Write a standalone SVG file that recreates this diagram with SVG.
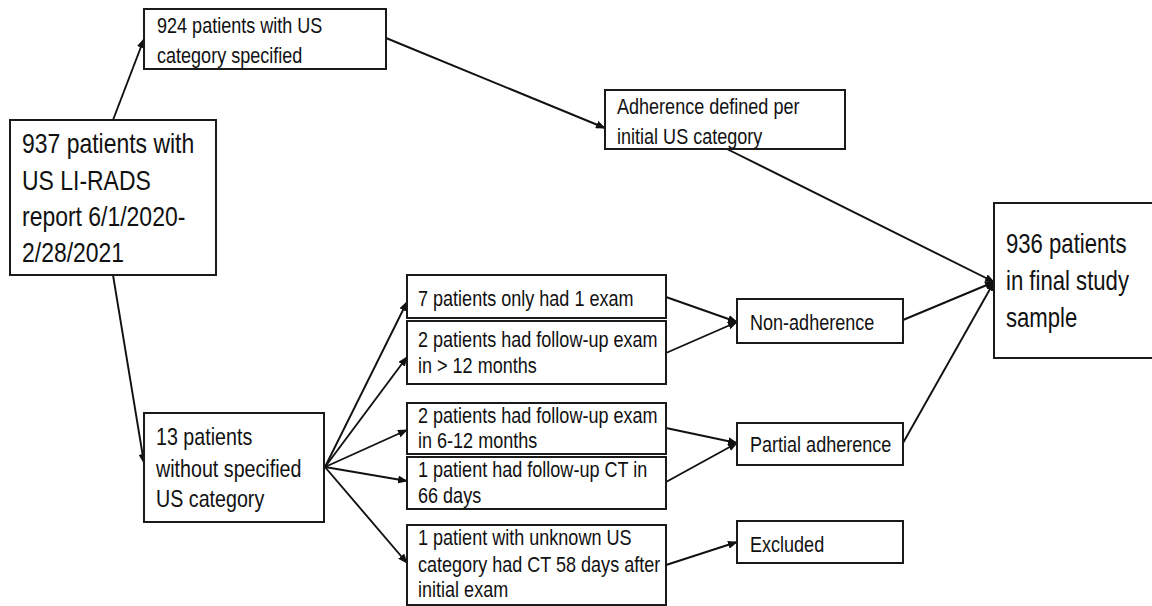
<svg xmlns="http://www.w3.org/2000/svg" width="1152" height="606" viewBox="0 0 1152 606">
<style>
.box{fill:#fff;stroke:#1a1a1a;stroke-width:2}
.t{font-family:"Liberation Sans",Arial,sans-serif;fill:#111}
.s22{font-size:22px}
.s24{font-size:24px}
.s27{font-size:27px}
.s28{font-size:28px}
.c{fill:none;stroke:#111;stroke-width:1.9;marker-end:url(#ah)}
</style>
<defs>
<marker id="ah" markerUnits="userSpaceOnUse" markerWidth="10" markerHeight="8" refX="9" refY="4" orient="auto">
<path d="M0,0 L10,4 L0,8 z" fill="#111"/>
</marker>
</defs>
<rect width="1152" height="606" fill="#fff"/>
<g id="connectors">
<line class="c" x1="113" y1="120" x2="144" y2="39"/>
<line class="c" x1="113" y1="275" x2="144" y2="463"/>
<line class="c" x1="386" y1="38" x2="605" y2="128"/>
<line class="c" x1="727" y1="149" x2="994" y2="282"/>
<line class="c" x1="903" y1="320" x2="994" y2="282"/>
<line class="c" x1="903" y1="443" x2="994" y2="282"/>
<line class="c" x1="325" y1="467" x2="407" y2="302"/>
<line class="c" x1="325" y1="467" x2="407" y2="357"/>
<line class="c" x1="325" y1="467" x2="407" y2="430"/>
<line class="c" x1="325" y1="467" x2="407" y2="481"/>
<line class="c" x1="325" y1="467" x2="407" y2="563"/>
<line class="c" x1="666" y1="297" x2="737" y2="322"/>
<line class="c" x1="666" y1="353" x2="737" y2="322"/>
<line class="c" x1="666" y1="428" x2="737" y2="443"/>
<line class="c" x1="666" y1="482" x2="737" y2="443"/>
<line class="c" x1="666" y1="565" x2="737" y2="542"/>
</g>
<g id="n937">
<rect class="box" x="10" y="120" width="206" height="155"/>
<text class="t s28" transform="translate(22,153) scale(0.82,1)"><tspan x="0" y="0">937 patients with</tspan><tspan x="0" y="37">US LI-RADS</tspan><tspan x="0" y="73">report 6/1/2020-</tspan><tspan x="0" y="109">2/28/2021</tspan></text>
</g>
<g id="n924">
<rect class="box" x="144" y="9" width="242" height="60"/>
<text class="t s22" transform="translate(157,33) scale(0.82,1)"><tspan x="0" y="0">924 patients with US</tspan><tspan x="0" y="30">category specified</tspan></text>
</g>
<g id="nAdh">
<rect class="box" x="605" y="90" width="240" height="59"/>
<text class="t s22" transform="translate(617,114) scale(0.82,1)"><tspan x="0" y="0">Adherence defined per</tspan><tspan x="0" y="30">initial US category</tspan></text>
</g>
<g id="n936">
<rect class="box" x="994" y="203" width="170" height="155"/>
<text class="t s27" transform="translate(1006,253) scale(0.82,1)"><tspan x="0" y="0">936 patients</tspan><tspan x="0" y="37">in final study</tspan><tspan x="0" y="74">sample</tspan></text>
</g>
<g id="n13">
<rect class="box" x="144" y="413" width="180" height="109"/>
<text class="t s24" transform="translate(156,445) scale(0.82,1)"><tspan x="0" y="0">13 patients</tspan><tspan x="0" y="32">without specified</tspan><tspan x="0" y="62">US category</tspan></text>
</g>
<g id="n7">
<rect class="box" x="407" y="275" width="259" height="43"/>
<text class="t s22" transform="translate(418,306) scale(0.82,1)">7 patients only had 1 exam</text>
</g>
<g id="n2a">
<rect class="box" x="407" y="321" width="259" height="63"/>
<text class="t s22" transform="translate(418,347) scale(0.82,1)"><tspan x="0" y="0">2 patients had follow-up exam</tspan><tspan x="0" y="26">in &gt; 12 months</tspan></text>
</g>
<g id="n2b">
<rect class="box" x="407" y="403" width="259" height="51"/>
<text class="t s22" transform="translate(418,423) scale(0.82,1)"><tspan x="0" y="0">2 patients had follow-up exam</tspan><tspan x="0" y="25">in 6-12 months</tspan></text>
</g>
<g id="n1a">
<rect class="box" x="407" y="457" width="259" height="52"/>
<text class="t s22" transform="translate(418,477) scale(0.82,1)"><tspan x="0" y="0">1 patient had follow-up CT in</tspan><tspan x="0" y="26">66 days</tspan></text>
</g>
<g id="n1b">
<rect class="box" x="407" y="525" width="259" height="80"/>
<text class="t s22" transform="translate(418,545) scale(0.82,1)"><tspan x="0" y="0">1 patient with unknown US</tspan><tspan x="0" y="27">category had CT 58 days after</tspan><tspan x="0" y="52">initial exam</tspan></text>
</g>
<g id="nNon">
<rect class="box" x="737" y="299" width="166" height="44"/>
<text class="t s22" transform="translate(750,330) scale(0.82,1)">Non-adherence</text>
</g>
<g id="nPartial">
<rect class="box" x="737" y="423" width="166" height="42"/>
<text class="t s22" transform="translate(750,452) scale(0.82,1)">Partial adherence</text>
</g>
<g id="nExcl">
<rect class="box" x="737" y="521" width="166" height="42"/>
<text class="t s22" transform="translate(750,552) scale(0.82,1)">Excluded</text>
</g>
</svg>
